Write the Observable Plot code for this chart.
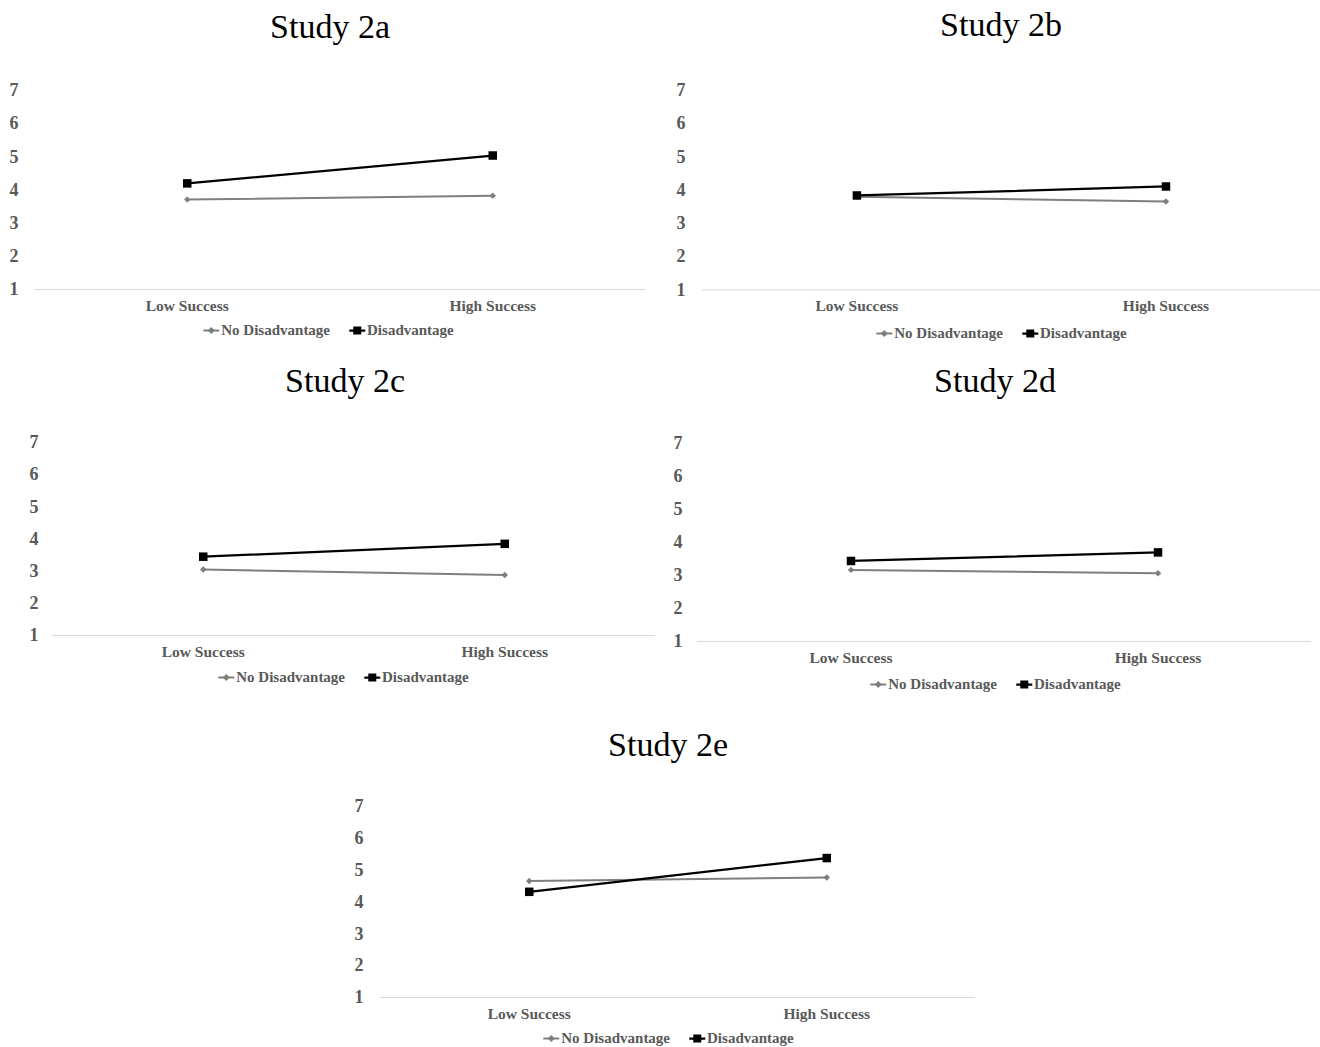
<!DOCTYPE html>
<html>
<head>
<meta charset="utf-8">
<script src="https://cdn.jsdelivr.net/npm/d3@7"></script>
<script src="https://cdn.jsdelivr.net/npm/@observablehq/plot@0.6"></script>
<style>
  html, body { margin: 0; padding: 0; background: #fff; }
  #root { position: relative; width: 1320px; height: 1047px; overflow: hidden; background: #fff; }
  .title { position: absolute; transform: translate(-50%, -50%); font-family: "Liberation Serif", "Times New Roman", serif; font-size: 34px; line-height: 1; color: #000; white-space: nowrap; }
  .panel { position: absolute; }
  .legend { position: absolute; transform: translate(-50%, -50%); display: flex; align-items: center; gap: 18px; font-family: "Liberation Serif", "Times New Roman", serif; font-weight: bold; font-size: 15px; color: #595959; white-space: nowrap; line-height: 1; }
  .legend .item { display: flex; align-items: center; }
  .legend svg { display: block; margin-right: 1px; }
</style>
</head>
<body>
<div id="root"></div>
<script>
// ---- data ----
const categories = ["Low Success", "High Success"];
const studies = ["Study 2a", "Study 2b", "Study 2c", "Study 2d", "Study 2e"];
const seriesNames = ["No Disadvantage", "Disadvantage"];
const yTicks = [1, 2, 3, 4, 5, 6, 7];
// values per study: [Low Success, High Success]
const noDisadvantage = [
  [3.71, 3.83],
  [3.80, 3.66],
  [3.05, 2.88],
  [3.17, 3.07],
  [4.66, 4.77]
];
const disadvantage = [
  [4.20, 5.04],
  [3.84, 4.11],
  [3.45, 3.85],
  [3.44, 3.70],
  [4.32, 5.38]
];

// ---- layout (page pixel positions of each panel) ----
const layout = [
  {x0: 34,  x1: 645,  y7: 90,  y1: 289, tp: 16, title: [330, 27],  legend: [328, 330]},
  {x0: 702, x1: 1322, y7: 90,  y1: 290, tp: 17, title: [1001, 25], legend: [1001, 333]},
  {x0: 52,  x1: 655,  y7: 442, y1: 635, tp: 14, title: [345, 381], legend: [343, 677]},
  {x0: 697, x1: 1311, y7: 443, y1: 641, tp: 15, title: [995, 381], legend: [995, 684]},
  {x0: 380, x1: 975,  y7: 806, y1: 997, tp: 17, title: [668, 745], legend: [668, 1038]}
];

const colors = {"No Disadvantage": "#7f7f7f", "Disadvantage": "#000000"};
const root = document.getElementById("root");

function swatch(name) {
  const ns = "http://www.w3.org/2000/svg";
  const s = document.createElementNS(ns, "svg");
  s.setAttribute("width", "18"); s.setAttribute("height", "12");
  const l = document.createElementNS(ns, "line");
  l.setAttribute("x1", "1"); l.setAttribute("x2", "17"); l.setAttribute("y1", "6"); l.setAttribute("y2", "6");
  l.setAttribute("stroke", colors[name]); l.setAttribute("stroke-width", name === "Disadvantage" ? "2.25" : "2");
  s.appendChild(l);
  if (name === "Disadvantage") {
    const r = document.createElementNS(ns, "rect");
    r.setAttribute("x", "5"); r.setAttribute("y", "2"); r.setAttribute("width", "8"); r.setAttribute("height", "8");
    r.setAttribute("fill", "#000");
    s.appendChild(r);
  } else {
    const p = document.createElementNS(ns, "path");
    p.setAttribute("d", "M9,2.5L12.5,6L9,9.5L5.5,6Z");
    p.setAttribute("fill", colors[name]);
    s.appendChild(p);
  }
  return s;
}

studies.forEach((study, i) => {
  const L = layout[i];
  const mL = 40, mT = 15, mB = 32;
  const width = L.x1 - L.x0 + mL;
  const height = (L.y1 - L.y7) + mT + mB;

  const nd = categories.map((c, j) => ({cat: c, value: noDisadvantage[i][j]}));
  const d = categories.map((c, j) => ({cat: c, value: disadvantage[i][j]}));

  const chart = Plot.plot({
    width, height,
    marginLeft: mL, marginRight: 0, marginTop: mT, marginBottom: mB,
    x: {type: "point", domain: categories, padding: 0.5, round: false, label: null},
    y: {domain: [1, 7], label: null},
    style: {
      fontFamily: "'Liberation Serif', 'Times New Roman', serif",
      fontSize: "15px",
      fontWeight: "bold",
      color: "#595959",
      background: "transparent",
      overflow: "visible"
    },
    marks: [
      Plot.ruleY([1], {stroke: "#d9d9d9", strokeWidth: 1}),
      Plot.axisY({ticks: yTicks, tickSize: 0, tickPadding: L.tp, fontSize: 18, tickFormat: d3.format("d")}),
      Plot.axisX({tickSize: 0, tickPadding: 10.5, fontSize: 15.5}),
      Plot.line(nd, {x: "cat", y: "value", stroke: colors["No Disadvantage"], strokeWidth: 2}),
      Plot.dot(nd, {x: "cat", y: "value", symbol: "diamond2", r: 2.9, fill: colors["No Disadvantage"], stroke: "none"}),
      Plot.line(d, {x: "cat", y: "value", stroke: colors["Disadvantage"], strokeWidth: 2.25}),
      Plot.dot(d, {x: "cat", y: "value", symbol: "square", r: 4.8, fill: colors["Disadvantage"], stroke: "none"})
    ]
  });

  const wrap = document.createElement("div");
  wrap.className = "panel";
  wrap.style.left = (L.x0 - mL) + "px";
  wrap.style.top = (L.y7 - mT) + "px";
  wrap.appendChild(chart);
  root.appendChild(wrap);

  const t = document.createElement("div");
  t.className = "title";
  t.textContent = study;
  t.style.left = L.title[0] + "px";
  t.style.top = L.title[1] + "px";
  root.appendChild(t);

  const lg = document.createElement("div");
  lg.className = "legend";
  lg.style.left = L.legend[0] + "px";
  lg.style.top = L.legend[1] + "px";
  seriesNames.forEach(name => {
    const it = document.createElement("div");
    it.className = "item";
    it.appendChild(swatch(name));
    const sp = document.createElement("span");
    sp.textContent = name;
    it.appendChild(sp);
    lg.appendChild(it);
  });
  root.appendChild(lg);
});
</script>
</body>
</html>
